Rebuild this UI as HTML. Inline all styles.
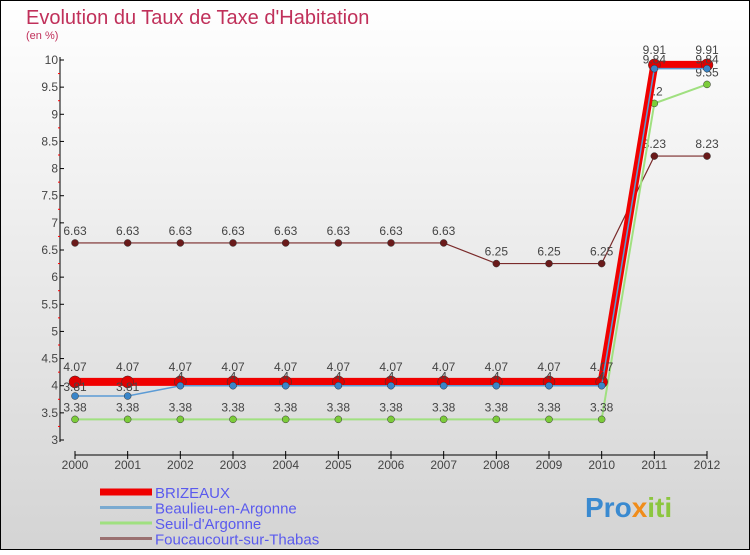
<!DOCTYPE html>
<html><head><meta charset="utf-8"><style>
body{margin:0;width:750px;height:550px;overflow:hidden;font-family:"Liberation Sans",sans-serif}
</style></head><body>
<svg id="chart" width="750" height="550" xmlns="http://www.w3.org/2000/svg">
<defs><linearGradient id="bg" x1="0" y1="0" x2="0" y2="1"><stop offset="0" stop-color="#ffffff"/><stop offset="1" stop-color="#d4d4d4"/></linearGradient></defs>
<rect x="0.5" y="0.5" width="749" height="549" fill="url(#bg)" stroke="#000"/>
<text x="26" y="24" font-size="20" fill="#c0305a">Evolution du Taux de Taxe d'Habitation</text>
<text x="26" y="39" font-size="11" fill="#c0305a">(en %)</text>
<g id="axes"></g><g id="series"></g><g id="legend"></g>
<text x="585" y="517" font-size="28" font-weight="bold" fill="#3a8ad0">Pro<tspan fill="#f08c1a">x</tspan><tspan fill="#8cc63f">iti</tspan></text>
</svg>
<script>
const years=[2000,2001,2002,2003,2004,2005,2006,2007,2008,2009,2010,2011,2012];
const brizeaux=[4.07,4.07,4.07,4.07,4.07,4.07,4.07,4.07,4.07,4.07,4.07,9.91,9.91];
const beaulieu=[3.81,3.81,4,4,4,4,4,4,4,4,4,9.84,9.84];
const seuil=[3.38,3.38,3.38,3.38,3.38,3.38,3.38,3.38,3.38,3.38,3.38,9.2,9.55];
const foucaucourt=[6.63,6.63,6.63,6.63,6.63,6.63,6.63,6.63,6.25,6.25,6.25,8.23,8.23];
const yTicks=[3,3.5,4,4.5,5,5.5,6,6.5,7,7.5,8,8.5,9,9.5,10];
const seriesNames=["BRIZEAUX","Beaulieu-en-Argonne","Seuil-d'Argonne","Foucaucourt-sur-Thabas"];
const NS="http://www.w3.org/2000/svg";
const X=i=>75+i*(707-75)/(years.length-1);
const Y=v=>440-(v-3)*(380/7);
function el(t,a,p){const e=document.createElementNS(NS,t);for(const k in a)e.setAttribute(k,a[k]);p.appendChild(e);return e;}
const ax=document.getElementById('axes');
let l=el('line',{x1:60,y1:57,x2:60,y2:442,stroke:'#000'},ax);


l=el('line',{x1:75,y1:455,x2:707,y2:455,stroke:'#000'},ax);


yTicks.forEach(v=>{
 el('line',{x1:60,y1:Y(v),x2:64,y2:Y(v),stroke:'#000'},ax);
 if(v<10)el('line',{x1:58,y1:Y(v+0.25),x2:60,y2:Y(v+0.25),stroke:'#f00'},ax);
 const t=el('text',{x:58,y:Y(v)+4,'font-size':12,fill:'#444','text-anchor':'end'},ax);t.textContent=String(v);
 
 
});
years.forEach((y,i)=>{
 el('line',{x1:X(i),y1:451,x2:X(i),y2:459,stroke:'#000'},ax);
 const t=el('text',{x:X(i),y:469,'font-size':12,fill:'#444','text-anchor':'middle'},ax);t.textContent=y;
 
 
});
const sg=document.getElementById('series');
function draw(vals,color,w,r,dot,name,lblDy){
 const g=el('g',{},sg);
 
 
 el('polyline',{points:vals.map((v,i)=>X(i)+','+Y(v)).join(' '),fill:'none',stroke:color,'stroke-width':w},g);
 vals.forEach((v,i)=>{
  const c=el('circle',{cx:X(i),cy:Y(v),r:r,fill:dot,stroke:'#333','stroke-width':0.5},g);
  
  
  const t=el('text',{x:X(i),y:Y(v)+lblDy,'font-size':12,fill:'#444','text-anchor':'middle'},g);t.textContent=String(v);
  
  
 });
}
draw(foucaucourt,'#7a2a2a',1.2,3.5,'#6a1a1a','foucaucourt-series',-8);
draw(seuil,'#a0e080',2,3.5,'#7ccc3a','seuil-series',-8);
draw(brizeaux,'#f00000',8,6,'#e00000','brizeaux-series',-11);
draw(beaulieu,'#5b9bd5',1.5,3.5,'#3a85c8','beaulieu-series',-5);
const lg=document.getElementById('legend');
const lc=['#f00000','#7aaad0','#a0e080','#9a7070'],lw=[7,3,3,3];
seriesNames.forEach((n,i)=>{
 const y=492+i*15.5;
 el('line',{x1:100,y1:y,x2:152,y2:y,stroke:lc[i],'stroke-width':lw[i]},lg);
 const t=el('text',{x:155,y:y+6,'font-size':15,fill:'#5a5aee'},lg);t.textContent=n;
 
 
});
</script>
</body></html>
